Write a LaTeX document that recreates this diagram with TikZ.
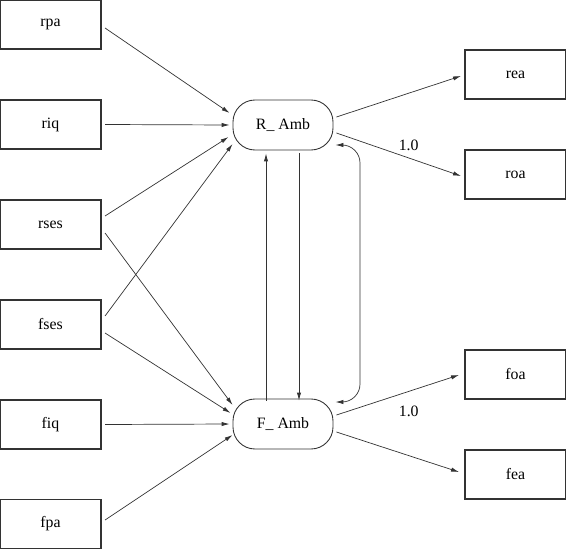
\documentclass[tikz,border=0pt]{standalone}
\usepackage{fontspec}
\setmainfont{Liberation Serif}
\usepackage{tikz}
\usetikzlibrary{arrows.meta}
\tikzstyle{model}=[line width=0.4pt,draw=black!80]
\tikzstyle{obs}=[rectangle, draw, line width=0.6pt, inner sep=0pt, minimum width=2.02cm, minimum height=0.98cm, font=\fontsize{9}{10}\selectfont]
\tikzstyle{lat}=[rectangle, rounded corners=0.44cm, draw, line width=0.5pt, inner sep=0pt, minimum width=2cm, minimum height=1cm, font=\fontsize{9}{10}\selectfont]
\tikzstyle{path}=[-{Latex[length=4.5pt,width=2.4pt]}, line width=0.4pt]
\tikzstyle{load}=[inner sep=1pt, font=\fontsize{9}{10}\selectfont]

\begin{document}
\begin{tikzpicture}[model]
				\useasboundingbox (0,0) rectangle (11.32,-11.0);
				
				%The observed causes
				\draw (1.01,-0.49) node[obs] (rpa) {rpa};
				\draw (1.01,-2.49) node[obs] (riq) {riq};
				\draw (1.01,-4.49) node[obs] (rses) {rses};
				\draw (1.01,-6.49) node[obs] (fses) {fses};
				\draw (1.01,-8.49) node[obs] (fiq) {fiq};
				\draw (1.01,-10.48) node[obs] (fpa) {fpa};
				
				%The latent variables
				\draw (5.66,-2.5) node[lat] (ramb) {R\_ Amb\hspace{0.2cm}};
				\draw (5.66,-8.48) node[lat] (famb) {F\_ Amb\hspace{0.2cm}};
				
				%The indicators
				\draw (10.31,-1.49) node[obs] (rea) {rea};
				\draw (10.31,-3.49) node[obs] (roa) {roa};
				\draw (10.31,-7.49) node[obs] (foa) {foa};
				\draw (10.31,-9.49) node[obs] (fea) {fea};
				
				%Causes to latents
				\draw[path] ([xshift=0.07cm,yshift=-0.07cm]rpa.east) -- ([xshift=-0.06cm,yshift=0.24cm]ramb.west);
				\draw[path] ([xshift=0.07cm]riq.east) -- ([xshift=-0.06cm]ramb.west);
				\draw[path] ([xshift=0.07cm,yshift=0.17cm]rses.east) -- ([xshift=-0.08cm,yshift=-0.24cm]ramb.west);
				\draw[path] ([xshift=0.07cm,yshift=-0.17cm]rses.east) -- ([yshift=0.38cm]famb.west);
				\draw[path] ([xshift=0.07cm,yshift=0.17cm]fses.east) -- ([yshift=-0.38cm]ramb.west);
				\draw[path] ([xshift=0.07cm,yshift=-0.17cm]fses.east) -- ([xshift=-0.04cm,yshift=0.22cm]famb.west);
				\draw[path] ([xshift=0.07cm]fiq.east) -- ([xshift=-0.06cm]famb.west);
				\draw[path] ([xshift=0.07cm,yshift=0.08cm]fpa.east) -- ([yshift=-0.22cm]famb.west);
				
				%Latents to indicators
				\draw[path] ([xshift=0.06cm,yshift=0.16cm]ramb.east) -- ([xshift=-0.07cm,yshift=-0.03cm]rea.west);
				\draw[path] ([xshift=0.06cm,yshift=-0.16cm]ramb.east) -- node[load, pos=0.58, above=3pt] {1.0} ([xshift=-0.07cm,yshift=-0.03cm]roa.west);
				\draw[path] ([xshift=0.06cm,yshift=0.18cm]famb.east) -- node[load, pos=0.59, below=7pt] {1.0} ([xshift=-0.11cm,yshift=-0.01cm]foa.west);
				\draw[path] ([xshift=0.06cm,yshift=-0.16cm]famb.east) -- ([xshift=-0.11cm,yshift=0.05cm]fea.west);
				
				%Between latents
				\draw[path] ([xshift=-0.34cm,yshift=-0.04cm]famb.north) -- ([xshift=-0.34cm,yshift=-0.06cm]ramb.south);
				\draw[path] ([xshift=0.32cm,yshift=-0.06cm]ramb.south) -- ([xshift=0.32cm,yshift=-0.04cm]famb.north);
				\draw[path, {Latex[length=4.5pt,width=2.4pt]}-{Latex[length=4.5pt,width=2.4pt]}, rounded corners=0.36cm] ([xshift=0.04cm,yshift=-0.4cm]ramb.east) -- (7.2,-2.9) -- (7.2,-8.04) -- ([xshift=0.04cm,yshift=0.44cm]famb.east);
			\end{tikzpicture}
\end{document}
